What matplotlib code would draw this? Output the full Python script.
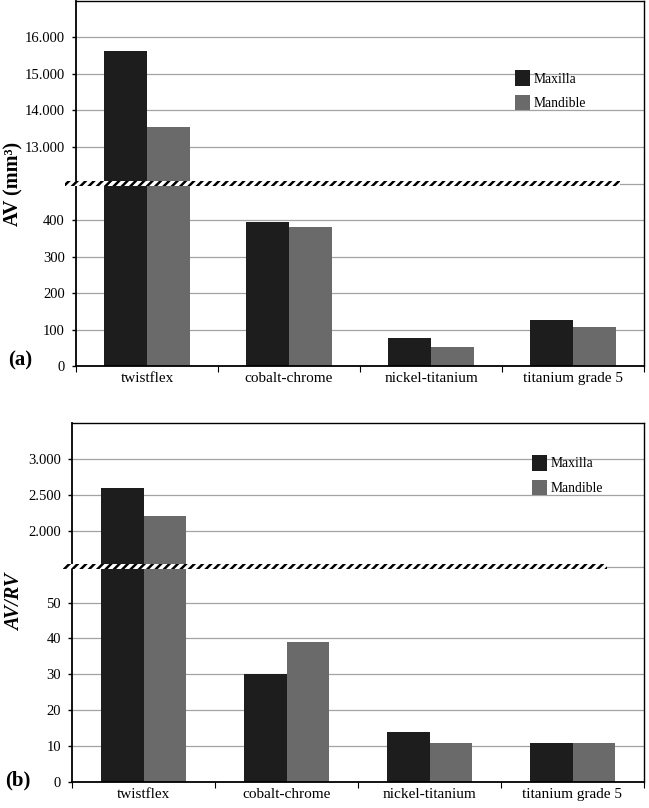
import numpy as np
import matplotlib
matplotlib.use("Agg")
import matplotlib.pyplot as plt
from matplotlib.patches import Rectangle
from matplotlib.ticker import FixedLocator, FuncFormatter, NullFormatter

plt.rcParams['font.family'] = ['Liberation Serif', 'DejaVu Serif']
plt.rcParams['hatch.linewidth'] = 1.8

# data
categories = ['twistflex', 'cobalt-chrome', 'nickel-titanium', 'titanium grade 5']
series = ['Maxilla', 'Mandible']
av_maxilla = [15630, 395, 77, 127]
av_mandible = [13550, 381, 53, 108]
ratio_maxilla = [2600, 30, 14, 11]
ratio_mandible = [2200, 39, 11, 11]

# broken axis: value breakpoints -> slot positions
av_breaks = [0, 500, 12000, 17000]
av_ticks = [0, 100, 200, 300, 400, 13000, 14000, 15000, 16000]
av_cut = 500
ratio_breaks = [0, 60, 1500, 3500]
ratio_ticks = [0, 10, 20, 30, 40, 50, 2000, 2500, 3000]
ratio_cut = 60

colors = ['#1d1d1d', '#6a6a6a']
grid_col = '#a3a3a3'


def broken_scale(breaks, cut_slot):
    eps = 1e-6
    slots = [0, cut_slot, cut_slot + eps, 10 + eps]
    fwd = lambda v: np.interp(v, breaks, slots)
    inv = lambda s: np.interp(s, slots, breaks)
    return fwd, inv


def thousands(v, pos):
    return f"{v:,.0f}".replace(',', '.')


def panel(ax, vals_a, vals_b, breaks, cut_slot, ticks, cut, ylabel, label_style,
          label_x, hatch_x, leg_anchor):
    fwd, inv = broken_scale(breaks, cut_slot)
    ax.set_yscale('function', functions=(fwd, inv))
    x = np.arange(len(categories))
    w = 0.3
    ax.bar(x - w / 2, vals_a, w, color=colors[0], label=series[0], zorder=2)
    ax.bar(x + w / 2, vals_b, w, color=colors[1], label=series[1], zorder=2)
    ax.set_xlim(-0.5, len(categories) - 0.5)
    ax.set_ylim(breaks[0], breaks[-1])

    # gridlines
    for t in ticks[1:]:
        ax.axhline(t, color=grid_col, lw=0.9, zorder=0.5)
    ax.axhline(cut, color=grid_col, lw=0.9, zorder=0.5)

    ax.yaxis.set_major_locator(FixedLocator(ticks))
    ax.yaxis.set_major_formatter(FuncFormatter(thousands))
    ax.tick_params(axis='y', length=3, width=1, pad=5, labelsize=10.5)

    ax.xaxis.set_major_locator(FixedLocator(np.arange(-0.5, len(categories), 1.0)))
    ax.xaxis.set_major_formatter(NullFormatter())
    ax.xaxis.set_minor_locator(FixedLocator(x))
    ax.set_xticks(x, categories, minor=True)
    ax.tick_params(axis='x', which='major', length=4, width=0.8, direction='out')
    ax.tick_params(axis='x', which='minor', length=0, pad=4, labelsize=11)

    for s in ['left', 'bottom']:
        ax.spines[s].set_linewidth(1.3)
    for s in ['top', 'right']:
        ax.spines[s].set_linewidth(1.0)

    ax.set_ylabel(ylabel, fontsize=14.5, fontweight='bold', style=label_style)
    ax.yaxis.set_label_coords(label_x, 0.5)

    # break band
    trans = ax.get_yaxis_transform()
    lo, hi = inv(cut_slot - 0.055), inv(cut_slot + 0.06)
    ax.add_patch(Rectangle((hatch_x[0], lo), hatch_x[1] - hatch_x[0], hi - lo,
                           transform=trans, facecolor='white', edgecolor='black',
                           hatch='////', lw=0, zorder=3, clip_on=False))

    ax.legend(loc='upper left', bbox_to_anchor=leg_anchor, frameon=False,
              fontsize=9.8, handlelength=1.1, handleheight=1.35,
              handletextpad=0.25, labelspacing=0.7, borderpad=0,
              borderaxespad=0)


fig = plt.figure(figsize=(6.49, 8.08), dpi=100)
ax1 = fig.add_axes([76 / 649, 1 - 366 / 808, 568 / 649, 365 / 808])
ax2 = fig.add_axes([72 / 649, 1 - 782 / 808, 572 / 649, 359 / 808])

panel(ax1, av_maxilla, av_mandible, av_breaks, 5, av_ticks, av_cut,
      'AV (mm³)', 'normal', -0.092, (-0.019, 0.958), (0.773, 0.81))
panel(ax2, ratio_maxilla, ratio_mandible, ratio_breaks, 6, ratio_ticks, ratio_cut,
      'AV/RV', 'italic', -0.082, (-0.016, 0.935), (0.804, 0.91))

fig.text(8 / 649, 1 - 360 / 808, '(a)', fontsize=15, fontweight='bold', va='center')
fig.text(5 / 649, 1 - 780 / 808, '(b)', fontsize=15, fontweight='bold', va='center')

fig.savefig('out.png', dpi=100)
